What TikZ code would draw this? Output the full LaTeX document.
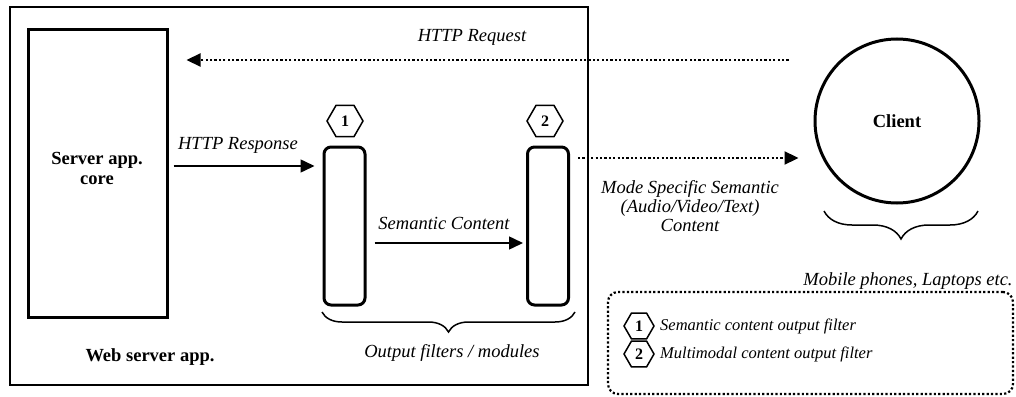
\documentclass[tikz,border=0pt]{standalone}
\usepackage{fontspec}
\setmainfont{Liberation Serif}
\usetikzlibrary{arrows.meta,shapes.geometric,decorations.pathreplacing}
\begin{document}
\begin{tikzpicture}[x=1pt,y=-1pt,
  lbl/.style={font=\fontsize{18.5}{20}\selectfont\itshape, inner sep=0pt},
  smalllbl/.style={font=\fontsize{16.5}{18}\selectfont\itshape, inner sep=0pt, anchor=west},
  boldlbl/.style={font=\fontsize{18.5}{20}\selectfont\bfseries, inner sep=0pt},
  arr/.style={line width=1.5pt,-{Triangle[length=14pt,width=13pt]}},
  dotarr/.style={line width=2.2pt,dash pattern=on 2.2pt off 2.2pt,-{Triangle[length=14pt,width=13pt]}},
  hexa/.style={regular polygon,regular polygon sides=6,draw,line width=1.5pt,minimum size=36pt,inner sep=0pt,font=\fontsize{16}{16}\selectfont\bfseries},
  smallhexa/.style={hexa,minimum size=30pt,font=\fontsize{16}{16}\selectfont\bfseries},
  filt/.style={draw,line width=3pt,rounded corners=7pt,minimum width=41pt,minimum height=158pt,inner sep=0pt},
  bracestyle/.style={line width=1.5pt,decorate,decoration={brace,mirror,amplitude=20pt}},
]
\useasboundingbox (0,0) rectangle (1016,396);

% web server box
\node[draw,line width=1.5pt,minimum width=578pt,minimum height=378pt,inner sep=0pt] (web) at (299,196) {};
\node[boldlbl] (webl) at (150,357) {Web server app.};

% server core
\node[draw,line width=3pt,minimum width=139pt,minimum height=287pt,inner sep=0pt] (core) at (97.5,173.5) {};
\node[boldlbl,align=center] (corel) at (97,168) {Server app.\\core};

% filters
\node[filt] (f1) at (344.5,226) {};
\node[filt] (f2) at (548,226) {};
\node[hexa] (h1) at (345,121) {1};
\node[hexa] (h2) at (545,121) {2};

% client
\node[circle,draw,line width=3pt,minimum size=164pt,inner sep=0pt,font=\fontsize{18.5}{20}\selectfont\bfseries] (client) at (897,121) {Client};

% coordinates for connector heights
\coordinate (qy) at (0,60);
\coordinate (ry) at (0,166);
\coordinate (sy) at (0,243);
\coordinate (my) at (0,158);

% HTTP request
\draw[dotarr] ([xshift=-25pt]client.west |- qy) -- ([xshift=18pt]core.east |- qy);
\node[lbl] (reql) at (472,37) {HTTP Request};

% HTTP response
\draw[arr] ([xshift=5pt]core.east |- ry) -- ([xshift=-8pt]f1.west |- ry);
\node[lbl] (respl) at (238,145) {HTTP Response};

% semantic content
\draw[arr] ([xshift=8pt]f1.east |- sy) -- ([xshift=-3pt]f2.west |- sy);
\node[lbl] (seml) at (444,223) {Semantic Content};

% mode specific
\draw[dotarr] ([xshift=8pt]f2.east |- my) -- ([xshift=-15pt]client.west |- my);
\node[lbl,align=center,font=\fontsize{18.5}{19}\selectfont\itshape] (model) at (690,206) {Mode Specific Semantic\\(Audio/Video/Text)\\Content};

% braces
\coordinate (b1a) at (322,312);
\coordinate (b1b) at (575,312);
\draw[bracestyle] (b1a) -- (b1b);
\node[lbl] (outl) at (452,353) {Output filters / modules};

\coordinate (b2a) at (824,211);
\coordinate (b2b) at (978,211);
\draw[bracestyle,decoration={amplitude=28pt}] (b2a) -- (b2b);
\node[lbl] (mobl) at (908,281) {Mobile phones, Laptops etc.};

% legend
\node[draw,line width=2.2pt,dash pattern=on 2.2pt off 2.2pt,rounded corners=10pt,minimum width=405pt,minimum height=102pt,inner sep=0pt] (legend) at (810.5,343) {};
\node[smallhexa] (lh1) at (639,326) {1};
\node[smallhexa] (lh2) at (639,354) {2};
\node[smalllbl] (lt1) at (660,326) {Semantic content output filter};
\node[smalllbl] (lt2) at (660,354) {Multimodal content output filter};
\end{tikzpicture}
\end{document}
